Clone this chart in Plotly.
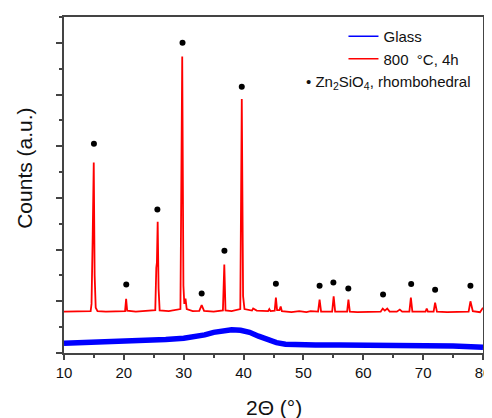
import plotly.graph_objects as go

# ---- Data ----
# Glass (amorphous hump)
glass_x = [10, 13, 16, 20, 24, 27, 30, 32, 33.5, 35, 36.5, 38, 39.5, 41, 42.5, 44, 45.5, 47, 49, 52, 56, 60, 65, 70, 75, 78, 80]
glass_y = [0.38, 0.40, 0.42, 0.45, 0.49, 0.52, 0.57, 0.63, 0.70, 0.80, 0.87, 0.90, 0.88, 0.80, 0.65, 0.50, 0.40, 0.34, 0.31, 0.31, 0.31, 0.31, 0.30, 0.29, 0.27, 0.24, 0.22]

# 800 °C, 4h (crystallised)
red_x = [10, 12, 14.45, 14.6, 14.7, 14.8, 14.97, 15.12, 15.3, 15.6, 17, 19, 20.2, 20.38, 20.55, 22, 24, 25.25, 25.42, 25.52, 25.65, 25.8, 25.98,
         27.5, 29.45, 29.75, 29.95, 30.1, 30.3, 30.5, 31.5, 32.6, 33.0, 33.4, 35, 36.55, 36.78, 36.98, 38, 39.45, 39.7, 39.92, 40.15,
         41.4, 41.6, 42.2, 44.1, 44.3, 44.5, 45.2, 45.4, 45.6, 46.0, 46.2, 46.4, 48, 49.3, 50.5, 51.2, 52.45, 52.7, 52.95,
         54.8, 55.05, 55.3, 57.3, 57.52, 57.75, 59, 61, 62.9, 63.25, 63.6, 64.0, 64.4, 65.6, 66.1, 66.5, 67.7, 67.95, 68.2,
         70.4, 70.6, 70.8, 71.75, 72.0, 72.3, 74, 76, 77.6, 77.9, 78.3, 79.5, 80]
red_y = [1.60, 1.60, 1.62, 1.90, 4.40, 4.60, 7.37, 3.00, 1.75, 1.62, 1.60, 1.60, 1.62, 2.10, 1.64, 1.60, 1.62, 1.66, 3.30, 3.50, 5.08, 2.50, 1.65,
         1.62, 1.70, 11.47, 2.60, 1.90, 2.10, 1.70, 1.62, 1.63, 1.85, 1.63, 1.60, 1.65, 3.42, 1.65, 1.62, 1.70, 9.83, 2.20, 1.70,
         1.64, 1.72, 1.64, 1.62, 1.70, 1.62, 1.64, 2.14, 1.66, 1.66, 1.80, 1.62, 1.58, 1.62, 1.58, 1.62, 1.60, 2.07, 1.60,
         1.60, 2.19, 1.60, 1.60, 2.07, 1.60, 1.58, 1.58, 1.60, 1.72, 1.64, 1.72, 1.60, 1.60, 1.68, 1.60, 1.60, 2.14, 1.60,
         1.60, 1.72, 1.60, 1.60, 1.95, 1.60, 1.58, 1.58, 1.60, 2.00, 1.62, 1.58, 1.75]

# Zn2SiO4 reflection markers
dot_x = [15.0, 20.4, 25.6, 29.8, 33.0, 36.8, 39.7, 45.4, 52.7, 55.0, 57.5, 63.3, 68.0, 72.0, 77.9]
dot_y = [8.10, 2.65, 5.55, 12.0, 2.30, 3.96, 10.3, 2.68, 2.60, 2.73, 2.50, 2.26, 2.67, 2.45, 2.60]

x_ticks = [10, 20, 30, 40, 50, 60, 70, 80]

FONT = "Liberation Sans, Arial, sans-serif"

fig = go.Figure()
fig.add_trace(go.Scatter(x=glass_x, y=glass_y, mode="lines", name="Glass",
                         line=dict(color="#0000ff", width=5.5), showlegend=False))
fig.add_trace(go.Scatter(x=red_x, y=red_y, mode="lines", name="800 °C, 4h",
                         line=dict(color="#ff0000", width=1.8), showlegend=False))
fig.add_trace(go.Scatter(x=dot_x, y=dot_y, mode="markers", name="Zn2SiO4, rhombohedral",
                         marker=dict(color="black", size=6), showlegend=False))
# legend entries
fig.add_trace(go.Scatter(x=[None], y=[None], mode="lines", name="Glass",
                         line=dict(color="#0000ff", width=1.6)))
fig.add_trace(go.Scatter(x=[None], y=[None], mode="lines", name="800  °C, 4h",
                         line=dict(color="#ff0000", width=1.6)))

# The page body adds an 8 px offset, so the figure is 8 px smaller on each side.
fig.update_layout(
    width=484, height=410,
    margin=dict(l=56, r=9, t=9, b=65, autoexpand=False),
    paper_bgcolor="white", plot_bgcolor="white",
    font=dict(family=FONT, color="#111", size=15),
    legend=dict(x=0.667, y=0.991, xanchor="left", yanchor="top",
                bgcolor="rgba(0,0,0,0)", font=dict(size=15, family=FONT),
                tracegroupgap=0),
    annotations=[
        dict(text="Counts (a.u.)", x=-0.094, y=0.55, xref="paper", yref="paper",
             xanchor="center", yanchor="middle",
             textangle=-90, showarrow=False, font=dict(size=21, family=FONT)),
        dict(text="2Θ (°)", x=0.5, y=-0.163, xref="paper", yref="paper",
             xanchor="center", yanchor="middle",
             showarrow=False, font=dict(size=21, family=FONT)),
        dict(text="• Zn<sub>2</sub>SiO<sub>4</sub>, rhombohedral", x=0.573, y=0.804,
             xref="paper", yref="paper", xanchor="left", yanchor="middle",
             showarrow=False, font=dict(size=15, family=FONT)),
    ],
)
fig.update_xaxes(range=[10, 80], tickvals=x_ticks, ticktext=[str(v) for v in x_ticks],
                 automargin=False,
                 showgrid=False, zeroline=False, showline=True, mirror=True,
                 linecolor="#444", linewidth=1.5, ticks="outside", ticklen=5,
                 tickwidth=1.5, tickcolor="#444", tickfont=dict(size=15),
                 minor=dict(dtick=5, tick0=5, ticks="outside", ticklen=3, tickwidth=1.5, tickcolor="#444"))
fig.update_yaxes(range=[0, 13], dtick=2, tick0=0, showticklabels=False,
                 automargin=False,
                 showgrid=False, zeroline=False, showline=True, mirror=True,
                 linecolor="#444", linewidth=1.5, ticks="outside", ticklen=6,
                 tickwidth=1.5, tickcolor="#444",
                 minor=dict(dtick=1, tick0=0, ticks="outside", ticklen=3, tickwidth=1.5, tickcolor="#444"))

fig.write_html("out.html")
